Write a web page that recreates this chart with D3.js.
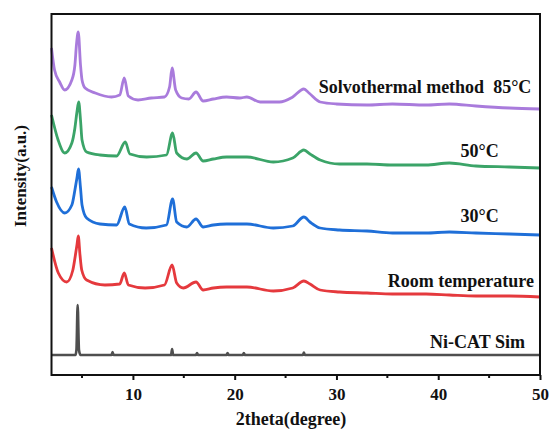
<!DOCTYPE html>
<html>
<head>
<meta charset="utf-8">
<script src="https://cdn.jsdelivr.net/npm/d3@7"></script>
<style>
  html, body { margin: 0; padding: 0; background: #fff; }
  svg text { font-family: "Liberation Serif", "Times New Roman", serif; font-weight: bold; fill: #111; }
</style>
</head>
<body>
<div id="chart"></div>
<script>
// values: [2theta, intensity (a.u.)]
const seriesNames = ['Ni-CAT Sim', 'Room temperature', '30°C', '50°C', 'Solvothermal method  85°C']

const niCatSim = [
  [2, 20], [4.35, 20], [4.45, 25], [4.57, 70], [4.7, 25], [4.85, 20],
  [7.9, 20], [8.0, 23], [8.1, 20], [13.75, 20], [13.85, 26], [13.95, 20],
  [16.2, 20], [16.3, 22], [16.4, 20], [19.2, 20], [19.3, 22], [19.4, 20],
  [20.8, 20], [20.9, 22], [21.0, 20], [26.7, 20], [26.8, 22.5], [26.9, 20], [50, 20]
]
const roomTemp = [
  [2, 127], [2.67, 102], [3.5, 93], [4.1, 105], [4.35, 120], [4.5, 130], [4.63, 139],
  [4.8, 120], [4.97, 105], [5.45, 95], [7.25, 90], [8.7, 91], [9.15, 102], [9.55, 90],
  [11.2, 87], [13.1, 90], [13.85, 110], [14.3, 92], [14.95, 87], [16.2, 93], [16.9, 85],
  [17.9, 87], [19.2, 88], [21.2, 88], [23.8, 84], [25.7, 87], [26.8, 94], [27.4, 91],
  [28.4, 85], [30.3, 83], [33, 82], [35.5, 81], [38.8, 81], [41.1, 80], [43.7, 79],
  [47, 79], [50, 78]
]
const temp30 = [
  [2, 188], [2.5, 173], [3.3, 162], [4.0, 170], [4.3, 185], [4.5, 197], [4.65, 206],
  [4.85, 187], [5.0, 170], [5.45, 157], [6.76, 151], [8.4, 150], [9.2, 168], [9.65, 151],
  [11.3, 147], [13.3, 150], [13.9, 176], [14.3, 153], [15.3, 148], [16.2, 156], [16.9, 148],
  [17.9, 150], [19.2, 151], [21.2, 151], [23.8, 147], [25.7, 149], [26.8, 158], [27.4, 153],
  [28.4, 147], [30.3, 145], [33, 144], [35.5, 142], [38.8, 142], [41.1, 143], [43.7, 142],
  [47, 141], [50, 140]
]
const temp50 = [
  [2, 260], [2.65, 235], [3.3, 222], [4.0, 232], [4.3, 247], [4.5, 263], [4.67, 273],
  [4.85, 255], [5.0, 235], [5.45, 223], [6.76, 220], [8.4, 219], [9.25, 233], [9.7, 221],
  [11.35, 218], [13.3, 220], [13.9, 242], [14.3, 222], [15.3, 216], [16.2, 222], [16.9, 214],
  [17.9, 216], [19.2, 218], [21.2, 218], [23.8, 213], [25.7, 217], [26.8, 225], [27.4, 221],
  [28.4, 215], [30.3, 211], [33, 211], [35.5, 210], [38.8, 210], [41.1, 212], [43.7, 209],
  [47, 208], [50, 207]
]
const solvo85 = [
  [2, 327], [2.3, 305], [2.8, 293], [3.3, 285], [4.0, 295], [4.3, 310], [4.45, 330], [4.63, 343],
  [4.85, 310], [5.0, 295], [5.3, 287], [6.3, 282], [7.9, 278], [8.7, 280], [9.15, 297], [9.55, 279],
  [10.5, 275], [11.8, 277], [13.1, 278], [13.6, 288], [13.85, 307], [14.2, 285], [14.8, 277],
  [15.5, 276], [16.2, 283], [16.9, 274], [17.9, 276], [19.2, 278], [20.5, 277], [21.2, 278],
  [22.5, 273], [24.4, 273], [25.7, 278], [26.8, 286], [27.3, 282], [28.4, 273], [30, 271],
  [33, 270], [35.5, 271], [38.8, 270], [41.1, 271], [43.7, 269], [47, 267], [50, 266]
]
const majorTicks = [10, 20, 30, 40, 50]
const minorTicks = [5, 15, 25, 35, 45]

// dimension stuff
const width = 552
const height = 433
const marginLeft = 51.5
const marginRight = 12
const marginTop = 14
const marginBottom = 58
const colors = ['#4f4f4f', '#e5393d', '#1f6fd8', '#3ba468', '#a97bdc']
const lineWidths = [2.6, 2.8, 2.8, 2.8, 2.8]
// label spot: [2theta, intensity] of the text start
const labelSpots = [[39.2, 27], [35.05, 88], [42.2, 153], [42.2, 218], [28.25, 282]]

const patterns = [niCatSim, roomTemp, temp30, temp50, solvo85]

const scaleX = d3.scaleLinear().domain([2, 50]).range([marginLeft, width - marginRight])
const scaleY = d3.scaleLinear().domain([0, 361]).range([height - marginBottom, marginTop])

const $svg = d3.select('#chart').append('svg')
  .attr('width', width)
  .attr('height', height)

const line = d3.line()
  .x(d => scaleX(d[0]))
  .y(d => scaleY(d[1]))
  .curve(d3.curveMonotoneX)

const $vis = $svg.append('g').attr('class', 'g-vis')

$vis.selectAll('.pattern')
  .data(patterns)
  .enter()
  .append('path')
  .attr('class', 'pattern')
  .attr('d', line)
  .attr('fill', 'none')
  .attr('stroke', (d, i) => colors[i])
  .attr('stroke-width', (d, i) => lineWidths[i])
  .attr('stroke-linejoin', 'round')

$vis.selectAll('.label')
  .data(seriesNames)
  .enter()
  .append('text')
  .attr('class', 'label')
  .attr('x', (d, i) => scaleX(labelSpots[i][0]))
  .attr('y', (d, i) => scaleY(labelSpots[i][1]))
  .style('font-size', '18px')
  .style('white-space', 'pre')
  .attr('xml:space', 'preserve')
  .text(d => d)

// axes
const y0 = scaleY.range()[0]
const $axis = $svg.append('g')
  .attr('class', 'g-axis')
  .attr('transform', `translate(0, ${y0})`)

$axis.call(d3.axisBottom(scaleX).tickValues(majorTicks).tickSize(5).tickSizeOuter(0).tickPadding(8))
$axis.select('.domain').remove()
$axis.selectAll('.tick line').attr('stroke', '#111').attr('stroke-width', 2)
$axis.selectAll('.tick text')
  .style('font-family', '"Liberation Serif", serif')
  .style('font-weight', 'bold')
  .style('font-size', '17px')
  .attr('fill', '#111')

$svg.append('g')
  .attr('transform', `translate(0, ${y0})`)
  .selectAll('line')
  .data(minorTicks)
  .enter()
  .append('line')
  .attr('x1', d => scaleX(d))
  .attr('x2', d => scaleX(d))
  .attr('y1', 0)
  .attr('y2', 3)
  .attr('stroke', '#111')
  .attr('stroke-width', 2)

// frame
$svg.append('rect')
  .attr('x', scaleX.range()[0])
  .attr('y', scaleY.range()[1])
  .attr('width', scaleX.range()[1] - scaleX.range()[0])
  .attr('height', scaleY.range()[0] - scaleY.range()[1])
  .attr('fill', 'none')
  .attr('stroke', '#111')
  .attr('stroke-width', 2)

$svg.append('text')
  .attr('x', 291)
  .attr('y', 425)
  .attr('text-anchor', 'middle')
  .style('font-size', '18px')
  .text('2theta(degree)')

$svg.append('text')
  .attr('transform', 'translate(26, 176) rotate(-90)')
  .attr('text-anchor', 'middle')
  .style('font-size', '17px')
  .text('Intensity(a.u.)')
</script>
</body>
</html>
